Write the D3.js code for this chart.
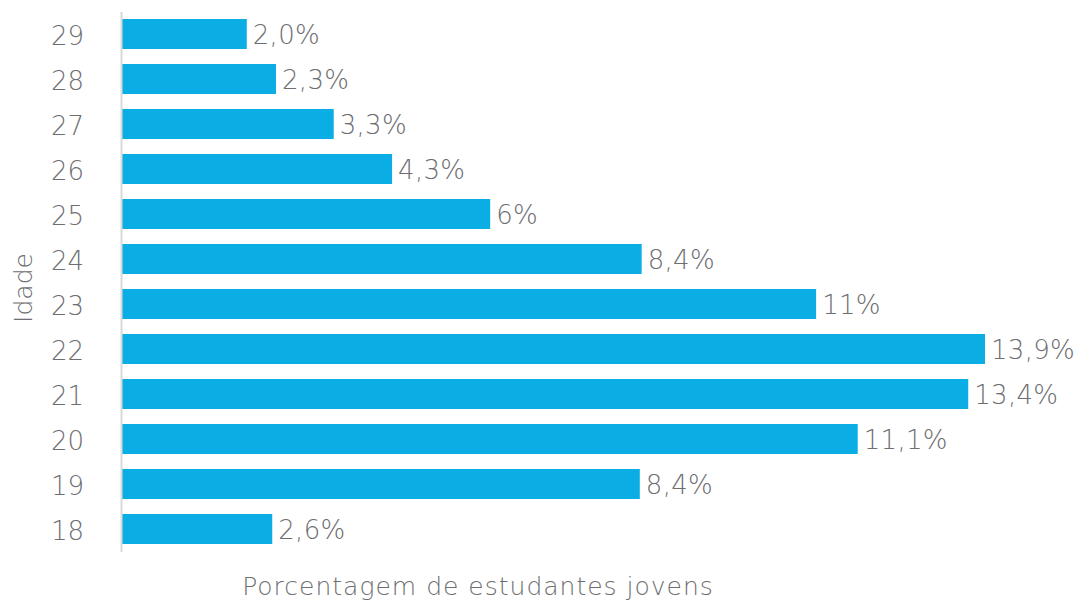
<!DOCTYPE html>
<html>
<head>
<meta charset="utf-8">
<script src="https://cdn.jsdelivr.net/npm/d3@7"></script>
<style>
	body { margin: 0; background: #ffffff; }
	text { font-family: "DejaVu Sans", sans-serif; font-weight: 200; fill: #6d6e71; }
</style>
</head>
<body>
<div id="chart"></div>
<script>
// ages, top to bottom
var ages = ["29", "28", "27", "26", "25", "24", "23", "22", "21", "20", "19", "18"];
// bar lengths as drawn (in %)
var values = [2.01, 2.48, 3.41, 4.35, 5.93, 8.37, 11.18, 13.9, 13.63, 11.85, 8.34, 2.42];
// printed labels
var labels = ["2,0%", "2,3%", "3,3%", "4,3%", "6%", "8,4%", "11%", "13,9%", "13,4%", "11,1%", "8,4%", "2,6%"];

var width = 1080, height = 603;

var svg = d3.select("#chart").append("svg")
	.attr("width", width)
	.attr("height", height);

var y = d3.scaleBand()
	.domain(ages)
	.range([11.5, 551.5])
	.paddingInner(1 / 3)
	.paddingOuter(1 / 6);

var x = d3.scaleLinear()
	.domain([0, 13.9])
	.range([122, 985]);

// bars
svg.selectAll(".bar")
	.data(values).enter()
	.append("rect")
		.attr("class", "bar")
		.attr("x", x(0))
		.attr("y", function(d, i){ return y(ages[i]); })
		.attr("width", function(d){ return x(d) - x(0); })
		.attr("height", y.bandwidth())
		.attr("fill", "#0aaee4");

// value labels
svg.selectAll(".value-label")
	.data(values).enter()
	.append("text")
		.attr("class", "value-label")
		.text(function(d, i){ return labels[i]; })
		.attr("x", function(d){ return x(d) + 6; })
		.attr("y", function(d, i){ return y(ages[i]) + y.bandwidth() / 2; })
		.attr("dy", "0.4em")
		.style("font-size", "26px")
		.style("letter-spacing", "0.3px");

// y axis
var yAxis = d3.axisLeft(y).tickSize(0).tickPadding(37);
var gy = svg.append("g")
	.attr("transform", "translate(121,0)")
	.call(yAxis);
gy.select(".domain").attr("stroke", "#d9d9d9").attr("stroke-width", 2);
gy.selectAll("text")
	.attr("dy", "0.42em")
	.style("font-size", "26px")
	.style("font-family", "'DejaVu Sans', sans-serif")
	.attr("fill", "#6d6e71");

// axis titles
svg.append("text")
	.text("Idade")
	.attr("transform", "translate(32,288) rotate(-90)")
	.attr("text-anchor", "middle")
	.style("font-size", "25px");

svg.append("text")
	.text("Porcentagem de estudantes jovens")
	.attr("x", 478)
	.attr("y", 595)
	.attr("text-anchor", "middle")
	.style("font-size", "25px")
	.style("letter-spacing", "1px");
</script>
</body>
</html>
